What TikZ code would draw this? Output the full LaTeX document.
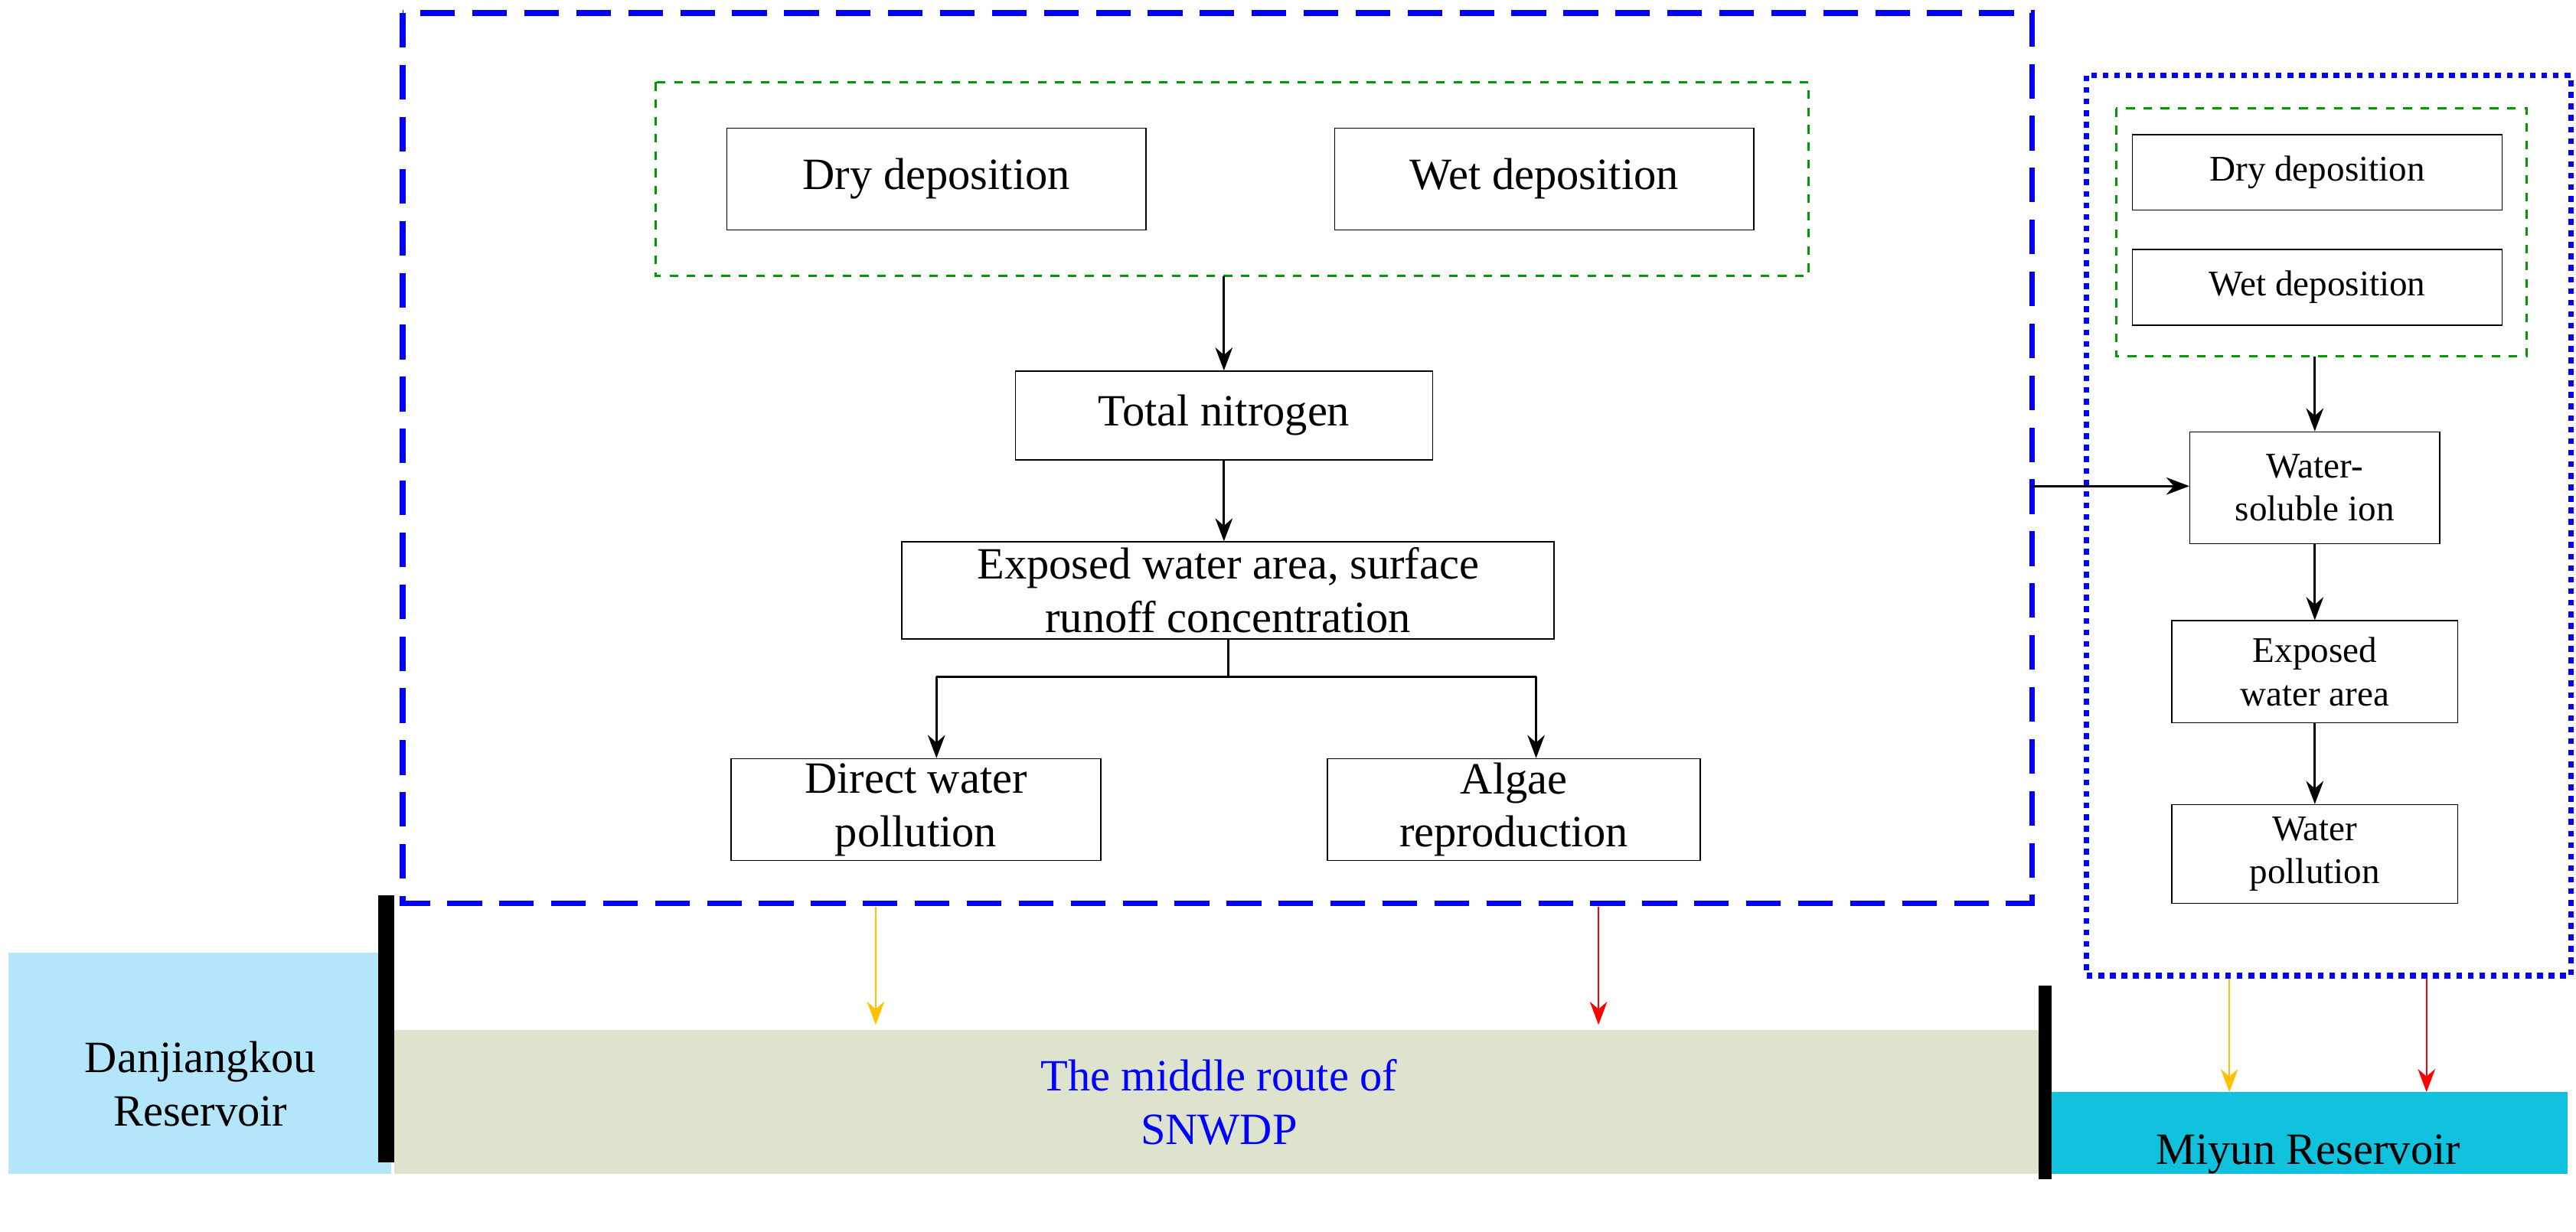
\documentclass[tikz,border=0pt]{standalone}
\usepackage{fontspec}
\usetikzlibrary{arrows.meta}
\setmainfont{Liberation Serif}
\begin{document}
\begin{tikzpicture}[x=0.02cm,y=-0.02cm,
 bx/.style={draw,thin,align=center,inner sep=0pt},
 big/.style={font=\fontsize{15.5}{18.5}\selectfont},
 sm/.style={font=\fontsize{12.5}{15}\selectfont},
 arr/.style={-{Stealth[length=8pt,width=6pt]},thick},
 carr/.style={-{Stealth[length=8pt,width=6pt]},semithick}]
\useasboundingbox (0,0) rectangle (1568,750);
% water bodies
\fill[cyan!30] (5,580) rectangle (238,715);
\fill[fill={rgb,255:red,222;green,227;blue,206}] (240,627) rectangle (1245,715);
\fill[fill={rgb,255:red,17;green,194;blue,222}] (1249,665) rectangle (1563,715);
\fill[black] (230,545) rectangle (240,708);
\fill[black] (1241,600) rectangle (1249,718);
\node[big,align=center] (dj) at (122,660) {Danjiangkou\\Reservoir};
\node[big,align=center,text=blue] (mr) at (742,671) {The middle route of\\SNWDP};
\node[big] (my) at (1405,703) {Miyun Reservoir};
% frames
\draw[blue,line width=2pt,dash pattern=on 12pt off 6pt] (245,8) rectangle (1237,550);
\coordinate (bigR) at (1237,296);
\draw[green!60!black,thick,dashed] (399,50) rectangle (1101,168);
\draw[blue,line width=2pt,dotted] (1270,46) rectangle (1565,594);
\draw[green!60!black,thick,dashed] (1288,66) rectangle (1538,217);
% left nodes
\node[bx,big,minimum width=255*0.02cm,minimum height=62*0.02cm] (d1) at (570,109) {Dry deposition};
\node[bx,big,minimum width=255*0.02cm,minimum height=62*0.02cm] (w1) at (940,109) {Wet deposition};
\coordinate (g1) at (745,168);
\node[bx,big,minimum width=254*0.02cm,minimum height=54*0.02cm] (tn) at (745,253) {Total nitrogen};
\node[bx,big,minimum width=397*0.02cm,minimum height=59*0.02cm] (ex) at (747.5,359.5) {Exposed water area, surface\\runoff concentration};
\node[bx,big,minimum width=225*0.02cm,minimum height=62*0.02cm] (dw) at (557.5,493) {Direct water\\pollution};
\node[bx,big,minimum width=227*0.02cm,minimum height=62*0.02cm] (al) at (921.5,493) {Algae\\reproduction};
\draw[arr] (g1) -- (tn.north -| g1);
\draw[arr] (tn) -- (tn|-ex.north);
\coordinate (j) at (747.5,412);
\coordinate (jl) at (570,412);
\coordinate (jr) at (935,412);
\draw[thick] (ex.south) -- (j);
\draw[thick] (jl) -- (jr);
\draw[arr] (jl) -- (dw.north -| jl);
\draw[arr] (jr) -- (al.north -| jr);
% right nodes
\node[bx,sm,minimum width=225*0.02cm,minimum height=46*0.02cm] (d2) at (1410.5,105) {Dry deposition};
\node[bx,sm,minimum width=225*0.02cm,minimum height=46*0.02cm] (w2) at (1410.5,175) {Wet deposition};
\coordinate (g2) at (1409,217);
\node[bx,sm,minimum width=152*0.02cm,minimum height=68*0.02cm] (ws) at (1409,297) {Water-\\soluble ion};
\node[bx,sm,minimum width=174*0.02cm,minimum height=62*0.02cm] (ew) at (1409,409) {Exposed\\water area};
\node[bx,sm,minimum width=174*0.02cm,minimum height=60*0.02cm] (wp) at (1409,520) {Water\\pollution};
\draw[arr] (g2) -- (ws.north -| g2);
\draw[arr] (bigR) -- (ws.west |- bigR);
\draw[arr] (ws) -- (ew);
\draw[arr] (ew) -- (wp);
% colored arrows
\coordinate (o1) at (533,552); \coordinate (r1) at (973,552);
\coordinate (o2) at (1357,596); \coordinate (r2) at (1477,596);
\definecolor{amb}{RGB}{255,192,0}
\draw[carr,amb] (o1) -- ++(0,72);
\draw[carr,red] (r1) -- ++(0,72);
\draw[carr,amb] (o2) -- ++(0,69);
\draw[carr,red] (r2) -- ++(0,69);
\end{tikzpicture}
\end{document}
